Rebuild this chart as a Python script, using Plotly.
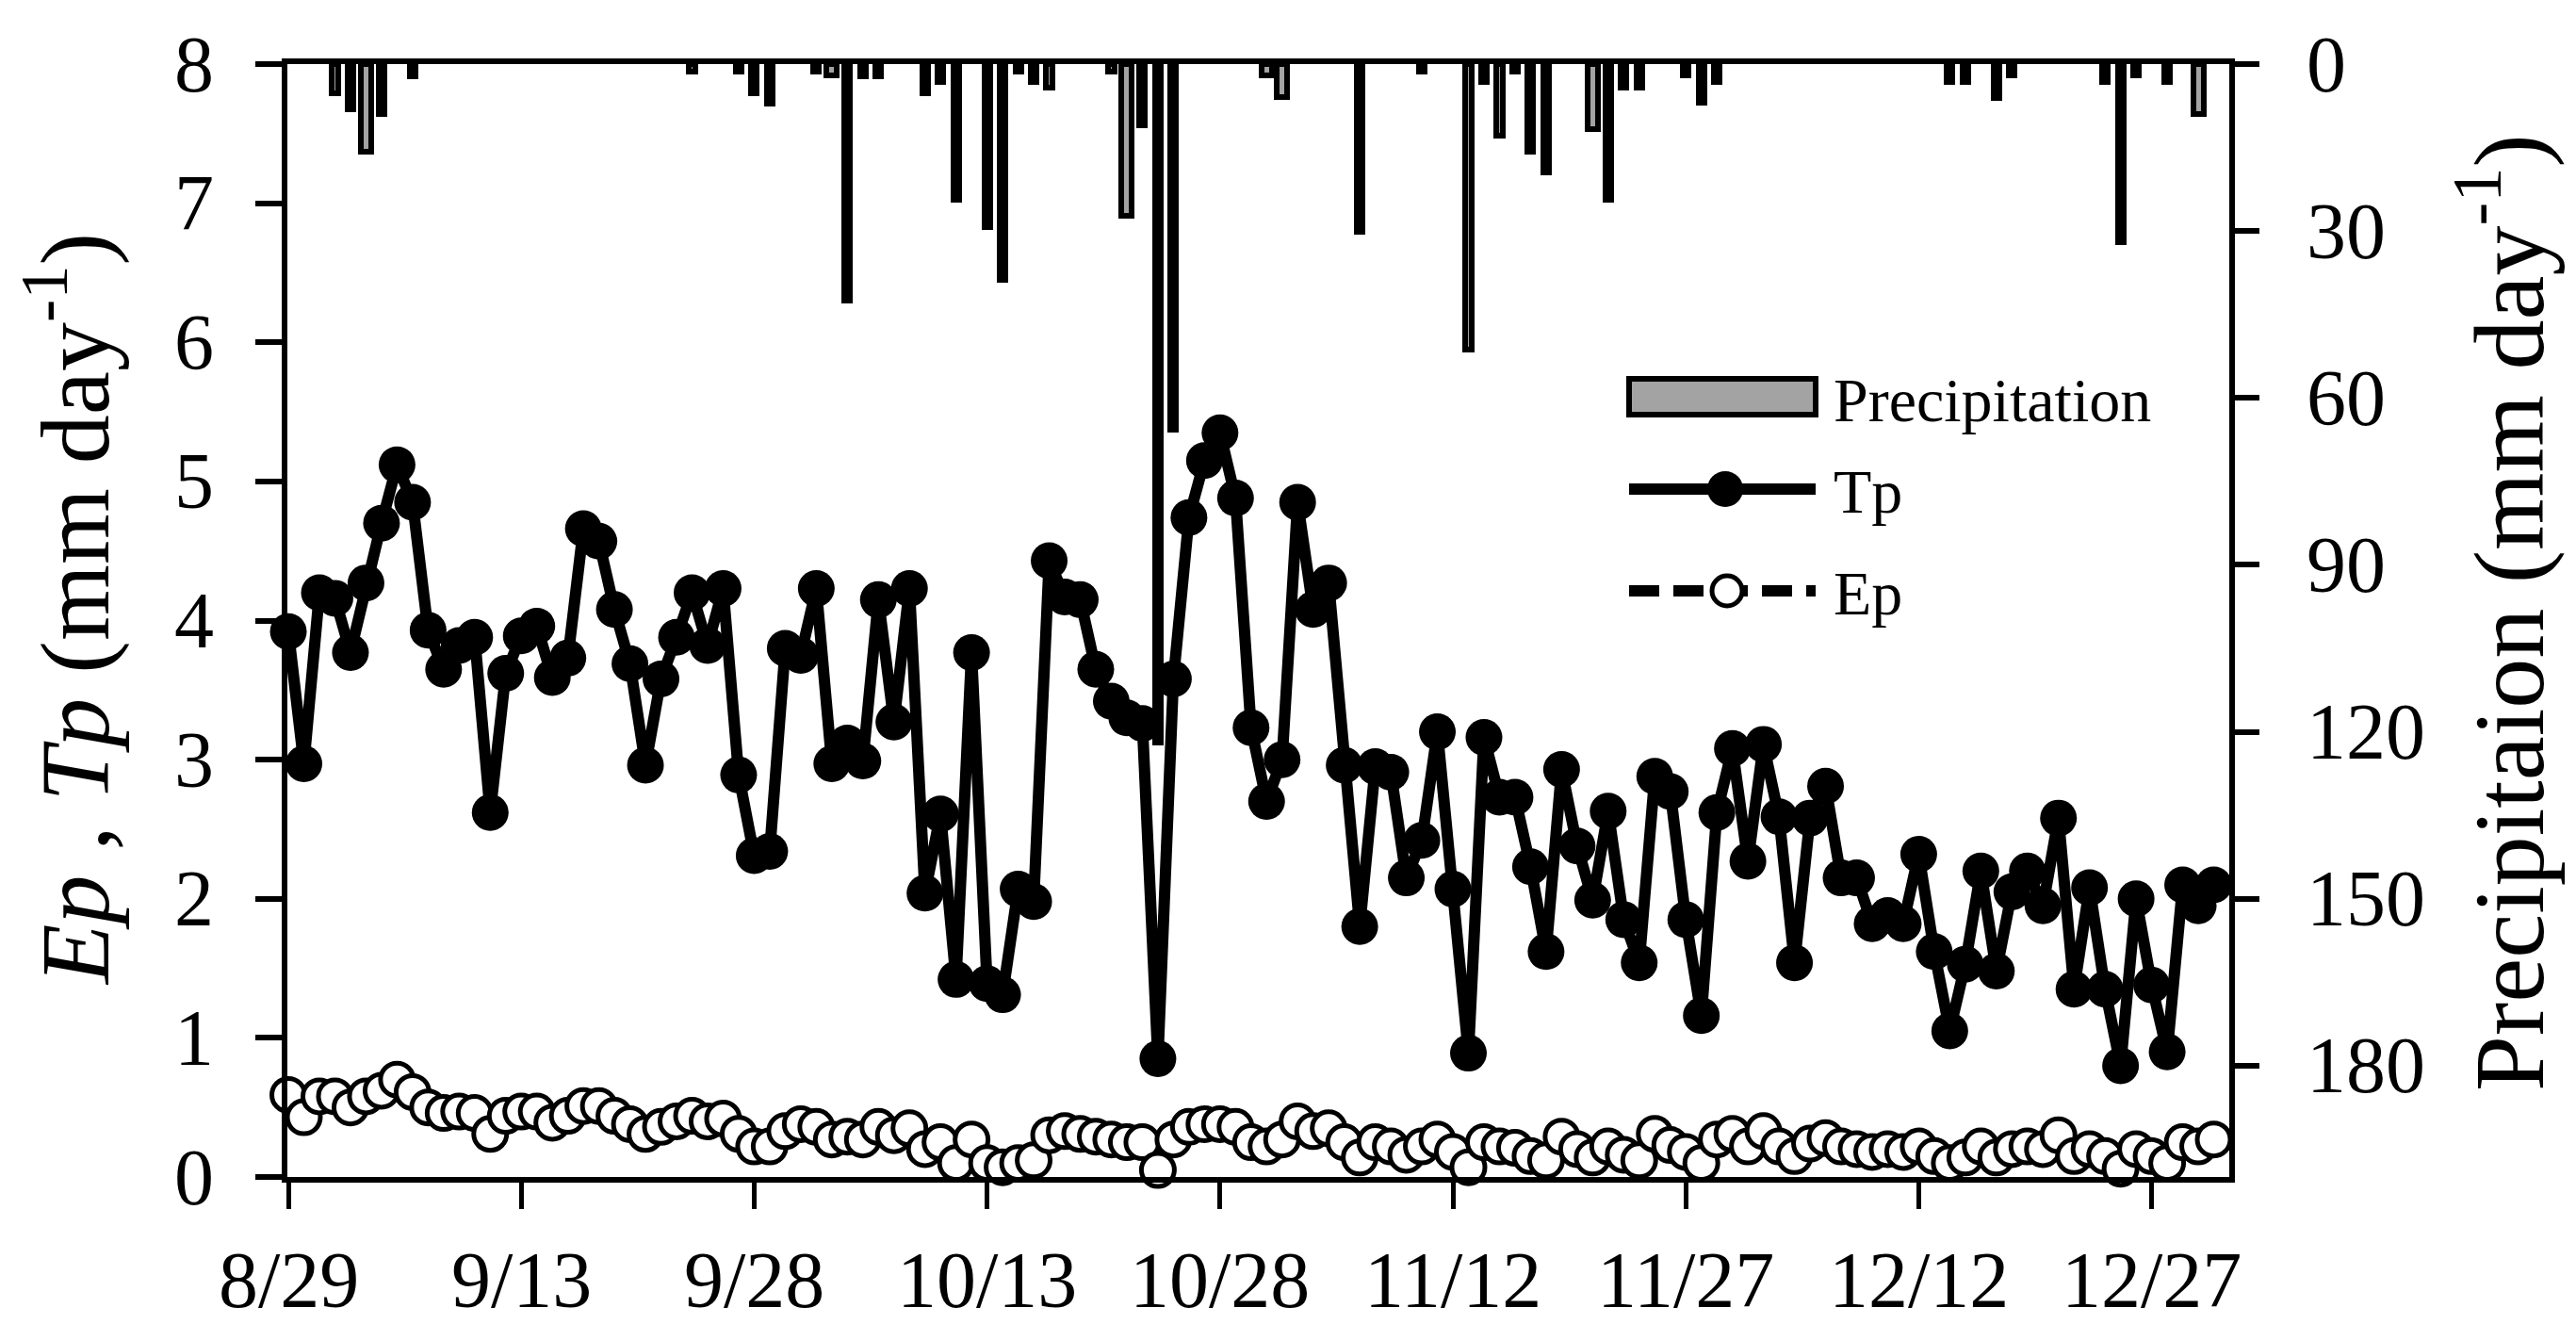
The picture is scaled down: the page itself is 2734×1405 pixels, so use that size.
import plotly.graph_objects as go
import pandas as pd

# ---------------- data ----------------
start_date = "2015-08-29"

tp_values = [
    3.92, 2.97, 4.20, 4.16, 3.77, 4.27, 4.70, 5.12, 4.85, 3.93,
    3.65, 3.82, 3.88, 2.62, 3.62, 3.89, 3.96, 3.59, 3.73, 4.66,
    4.57, 4.08, 3.69, 2.96, 3.58, 3.88, 4.20, 3.82, 4.23, 2.89,
    2.31, 2.34, 3.80, 3.75, 4.23, 2.97, 3.12, 2.99, 4.15, 3.27,
    4.23, 2.04, 2.61, 1.42, 3.77, 1.39, 1.31, 2.07, 1.98, 4.43,
    4.17, 4.15, 3.65, 3.42, 3.30, 3.26, 0.85, 3.58, 4.74, 5.15,
    5.35, 4.88, 3.23, 2.70, 3.00, 4.85, 4.08, 4.27, 2.96, 1.80,
    2.95, 2.91, 2.15, 2.42, 3.20, 2.07, 0.89, 3.16, 2.73, 2.73,
    2.23, 1.62, 2.93, 2.38, 1.99, 2.63, 1.85, 1.54, 2.88, 2.77,
    1.85, 1.16, 2.62, 3.08, 2.27, 3.11, 2.59, 1.54, 2.58, 2.81,
    2.15, 2.15, 1.82, 1.88, 1.82, 2.32, 1.62, 1.05, 1.53, 2.20,
    1.48, 2.05, 2.20, 1.95, 2.58, 1.35, 2.08, 1.35, 0.80, 2.00,
    1.38, 0.90, 2.10, 1.95, 2.10,
]

ep_values = [
    0.59, 0.43, 0.58, 0.58, 0.50, 0.58, 0.62, 0.70, 0.61, 0.50,
    0.46, 0.47, 0.46, 0.31, 0.44, 0.47, 0.47, 0.39, 0.44, 0.51,
    0.51, 0.44, 0.38, 0.31, 0.36, 0.40, 0.44, 0.40, 0.42, 0.31,
    0.22, 0.22, 0.33, 0.38, 0.36, 0.27, 0.29, 0.27, 0.36, 0.30,
    0.35, 0.20, 0.25, 0.10, 0.27, 0.10, 0.07, 0.10, 0.12, 0.30,
    0.33, 0.31, 0.29, 0.27, 0.25, 0.25, 0.05, 0.27, 0.36, 0.38,
    0.38, 0.36, 0.25, 0.22, 0.27, 0.40, 0.33, 0.35, 0.25, 0.14,
    0.25, 0.22, 0.16, 0.22, 0.27, 0.18, 0.07, 0.25, 0.22, 0.21,
    0.15, 0.12, 0.29, 0.20, 0.14, 0.22, 0.16, 0.12, 0.31, 0.23,
    0.18, 0.10, 0.27, 0.31, 0.22, 0.33, 0.22, 0.15, 0.24, 0.28,
    0.22, 0.20, 0.18, 0.20, 0.18, 0.22, 0.15, 0.10, 0.14, 0.22,
    0.14, 0.20, 0.22, 0.20, 0.30, 0.15, 0.20, 0.15, 0.06, 0.20,
    0.15, 0.10, 0.25, 0.22, 0.27,
]

precip_dates = [
    "2015-09-01", "2015-09-02", "2015-09-03", "2015-09-04", "2015-09-06",
    "2015-09-24", "2015-09-27", "2015-09-28", "2015-09-29", "2015-10-02",
    "2015-10-03", "2015-10-04", "2015-10-05", "2015-10-06", "2015-10-09",
    "2015-10-10", "2015-10-11", "2015-10-13", "2015-10-14", "2015-10-15",
    "2015-10-16", "2015-10-17", "2015-10-21", "2015-10-22", "2015-10-23",
    "2015-10-24", "2015-10-25", "2015-10-31", "2015-11-01", "2015-11-06",
    "2015-11-10", "2015-11-13", "2015-11-14", "2015-11-15", "2015-11-16",
    "2015-11-17", "2015-11-18", "2015-11-21", "2015-11-22", "2015-11-23",
    "2015-11-24", "2015-11-27", "2015-11-28", "2015-11-29", "2015-12-14",
    "2015-12-15", "2015-12-17", "2015-12-18", "2015-12-24", "2015-12-25",
    "2015-12-26", "2015-12-28", "2015-12-30",
]
precip_mm = [
    5.3, 8.1, 15.7, 9.0, 2.2,
    1.4, 1.4, 5.2, 7.1, 1.4,
    2.1, 42.5, 2.2, 2.2, 5.2,
    3.2, 24.4, 29.3, 38.8, 1.4,
    3.2, 4.2, 1.4, 27.3, 11.0,
    122.0, 65.7, 2.1, 6.0, 30.1,
    1.4, 51.3, 3.2, 12.9, 1.4,
    15.7, 19.5, 11.7, 24.4, 4.2,
    4.2, 2.1, 6.9, 3.2, 3.2,
    3.2, 6.1, 2.1, 3.2, 32.0,
    2.1, 3.2, 9.0,
]

x_tick_vals = ["2015-08-29", "2015-09-13", "2015-09-28", "2015-10-13", "2015-10-28",
               "2015-11-12", "2015-11-27", "2015-12-12", "2015-12-27"]
x_tick_text = ["8/29", "9/13", "9/28", "10/13", "10/28", "11/12", "11/27", "12/12", "12/27"]
left_ticks = [0, 1, 2, 3, 4, 5, 6, 7, 8]
right_ticks = [0, 30, 60, 90, 120, 150, 180]

# ---------------- style ----------------
wide_bar_dates = {"2015-09-03", "2015-10-03", "2015-10-22", "2015-10-31",
                  "2015-11-01", "2015-11-21", "2015-12-30"}
DAY = 86400000
bar_widths = [0.67 * DAY if d in wide_bar_dates else 0.37 * DAY for d in precip_dates]

FONT = "Liberation Serif, Times New Roman, serif"
TICK_SIZE = 84
W, H = 2734, 1405
L, R, T, B = 305, 2366, 68, 1249


def px(xp):
    return (xp - L) / (R - L)


def py(yp):
    return (B - yp) / (B - T)


dates = pd.date_range(start_date, periods=len(tp_values), freq="D")

fig = go.Figure()

fig.add_trace(go.Scatter(
    x=dates, y=ep_values, yaxis="y", mode="lines+markers", name="Ep",
    line=dict(color="black", width=7, dash="dash"),
    marker=dict(symbol="circle", size=35, color="white", line=dict(color="black", width=5)),
    cliponaxis=False,
))

fig.add_trace(go.Scatter(
    x=dates, y=tp_values, yaxis="y", mode="lines+markers", name="Tp",
    line=dict(color="black", width=12),
    marker=dict(symbol="circle", size=39, color="black", line=dict(width=0)),
    cliponaxis=False,
))

fig.add_trace(go.Bar(
    x=precip_dates, y=precip_mm, width=bar_widths, yaxis="y2",
    marker=dict(color="#a3a3a3", line=dict(color="black", width=6)),
    name="Precipitation",
))

axis_common = dict(showgrid=False, zeroline=False, showline=True, linecolor="black",
                   linewidth=6, ticks="outside", tickcolor="black",
                   showticklabels=False, automargin=False)

fig.update_layout(
    width=W, height=H,
    margin=dict(l=L, r=W - R, t=T, b=H - B, pad=0, autoexpand=False),
    paper_bgcolor="white", plot_bgcolor="white",
    showlegend=False,
    font=dict(family=FONT, color="black"),
    xaxis=dict(
        type="date", range=["2015-08-28 22:30", "2016-01-01 00:00"],
        tickvals=x_tick_vals, ticklen=28, tickwidth=5, mirror=True,
        **axis_common,
    ),
    yaxis=dict(
        side="left", range=[0, 8], tickvals=left_ticks,
        ticklen=28, tickwidth=6,
        **axis_common,
    ),
    yaxis2=dict(
        side="right", overlaying="y", anchor="x", range=[200, 0], tickvals=right_ticks,
        ticklen=26, tickwidth=6,
        **axis_common,
    ),
    bargap=0,
)

# tick labels (placed through the axes' own scales)
tick_font = dict(family=FONT, size=TICK_SIZE, color="black")
for xv, xt in zip(x_tick_vals, x_tick_text):
    fig.add_annotation(x=xv, xref="x", y=py(1358), yref="paper", text=xt,
                       xanchor="center", yanchor="middle", showarrow=False, font=tick_font)
for v in left_ticks:
    fig.add_annotation(x=px(229), xref="paper", y=v, yref="y", text=str(v),
                       xanchor="right", yanchor="middle", showarrow=False, font=tick_font)
for v in right_ticks:
    fig.add_annotation(x=px(2446), xref="paper", y=v, yref="y2", text=str(v),
                       xanchor="left", yanchor="middle", showarrow=False, font=tick_font)

# axis titles
fig.add_annotation(
    xref="paper", yref="paper", x=px(72), y=py(647), xanchor="center", yanchor="middle",
    text="<i>Ep</i> , <i>Tp</i> (mm day<sup>-1</sup>)", textangle=-90, showarrow=False,
    font=dict(family=FONT, size=104, color="black"),
)
fig.add_annotation(
    xref="paper", yref="paper", x=px(2655), y=py(650), xanchor="center", yanchor="middle",
    text="Precipitaion (mm day<sup>-1</sup>)", textangle=-90, showarrow=False,
    font=dict(family=FONT, size=106, color="black"),
)

# custom legend
shapes = []
shapes.append(dict(type="rect", xref="paper", yref="paper",
                   x0=px(1729), x1=px(1927), y0=py(440), y1=py(402),
                   fillcolor="#a3a3a3", line=dict(color="black", width=6)))
shapes.append(dict(type="line", xref="paper", yref="paper",
                   x0=px(1729), x1=px(1927), y0=py(519), y1=py(519),
                   line=dict(color="black", width=12)))
shapes.append(dict(type="circle", xref="paper", yref="paper",
                   x0=px(1812), x1=px(1850), y0=py(538), y1=py(500),
                   fillcolor="black", line=dict(color="black", width=0)))
shapes.append(dict(type="line", xref="paper", yref="paper",
                   x0=px(1729), x1=px(1927), y0=py(627), y1=py(627),
                   line=dict(color="black", width=12, dash="32px,15px")))
shapes.append(dict(type="circle", xref="paper", yref="paper",
                   x0=px(1817), x1=px(1849), y0=py(643), y1=py(611),
                   fillcolor="white", line=dict(color="black", width=5)))
fig.update_layout(shapes=shapes)

for label, yc in [("Precipitation", 424), ("Tp", 521), ("Ep", 629)]:
    fig.add_annotation(
        xref="paper", yref="paper", x=px(1944), y=py(yc), xanchor="left", yanchor="middle",
        text=label, showarrow=False, font=dict(family=FONT, size=66, color="black"),
    )

fig.write_html("out.html", config={"displayModeBar": False},
               post_script="document.body.style.margin='0';")
